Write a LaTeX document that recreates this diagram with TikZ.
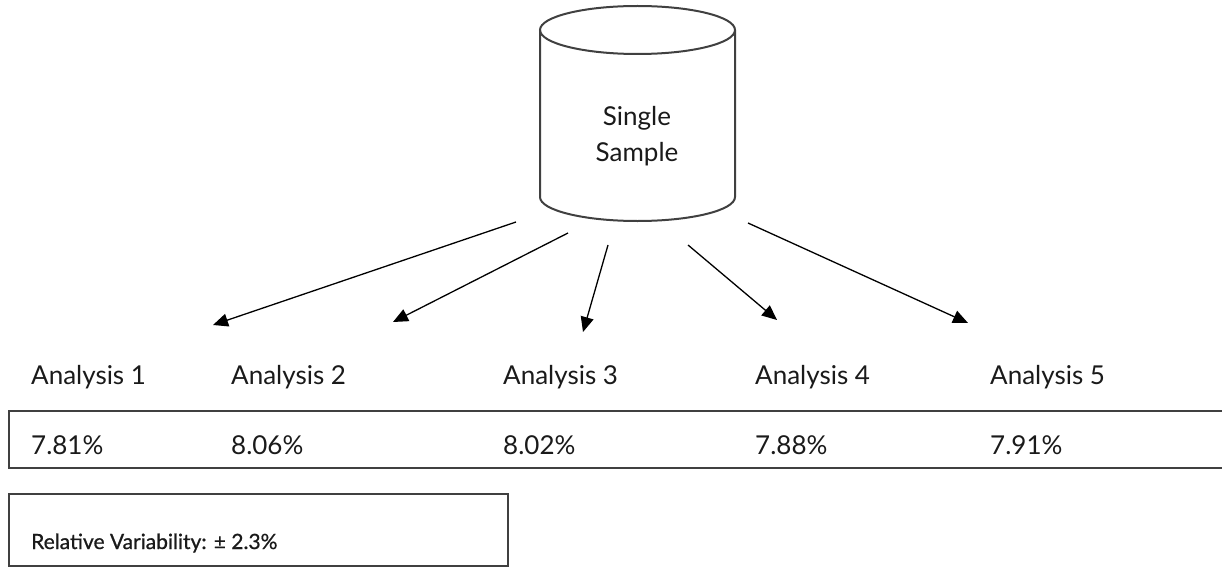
\documentclass[tikz,border=0pt]{standalone}
\usepackage{fontspec}
\setmainfont{Lato}
\newfontfamily\rvfont{Lato}[FakeBold=0.8]
\usetikzlibrary{arrows.meta}
\definecolor{edge}{HTML}{404040}
\definecolor{txt}{HTML}{1A1A1A}
\tikzset{
  lbl/.style={anchor=base west, inner sep=0pt, text=txt, font=\fontsize{26}{30}\selectfont},
  conn/.style={line width=1.3pt, -{Triangle[length=15pt,width=13pt]}},
  boxline/.style={draw=edge, line width=2pt},
}
\begin{document}
\begin{tikzpicture}[x=1pt,y=-1pt]
\useasboundingbox (0,0) rectangle (1222,567);
% cylinder
\draw[boxline] (540,30) -- (540,197) arc[start angle=180,end angle=0,x radius=97.5,y radius=24] -- (735,30);
\draw[boxline] (637.5,30) ellipse [x radius=97.5, y radius=24];
\node[align=center, inner sep=0pt, text=txt, font=\fontsize{26}{36}\selectfont] (sample) at (637,136) {Single\\Sample};
% arrow starts and ends
\coordinate (s1) at (516,222);
\coordinate (s2) at (568,233);
\coordinate (s3) at (608,245);
\coordinate (s4) at (688,245);
\coordinate (s5) at (748,223);
\coordinate (e1) at (213,325);
\coordinate (e2) at (393,322);
\coordinate (e3) at (583,332);
\coordinate (e4) at (777,320);
\coordinate (e5) at (968,323);
\draw[conn] (s1) -- (e1);
\draw[conn] (s2) -- (e2);
\draw[conn] (s3) -- (e3);
\draw[conn] (s4) -- (e4);
\draw[conn] (s5) -- (e5);
% labels
\node[lbl] (a1) at (31,384) {Analysis 1};
\node[lbl] (a2) at (231,384) {Analysis 2};
\node[lbl] (a3) at (503,384) {Analysis 3};
\node[lbl] (a4) at (755,384) {Analysis 4};
\node[lbl] (a5) at (990,384) {Analysis 5};
% values box
\draw[boxline] (1224,411) -- (9,411) -- (9,468) -- (1224,468);
\node[lbl] (v1) at (31,454) {7.81\%};
\node[lbl] (v2) at (231,454) {8.06\%};
\node[lbl] (v3) at (503,454) {8.02\%};
\node[lbl] (v4) at (755,454) {7.88\%};
\node[lbl] (v5) at (990,454) {7.91\%};
% variability box
\draw[boxline] (9,494) rectangle (508,566);
\node[lbl, font=\rvfont\fontsize{21}{25}\selectfont] (rv) at (31,549) {Relative Variability: ± 2.3\%};
\end{tikzpicture}
\end{document}
